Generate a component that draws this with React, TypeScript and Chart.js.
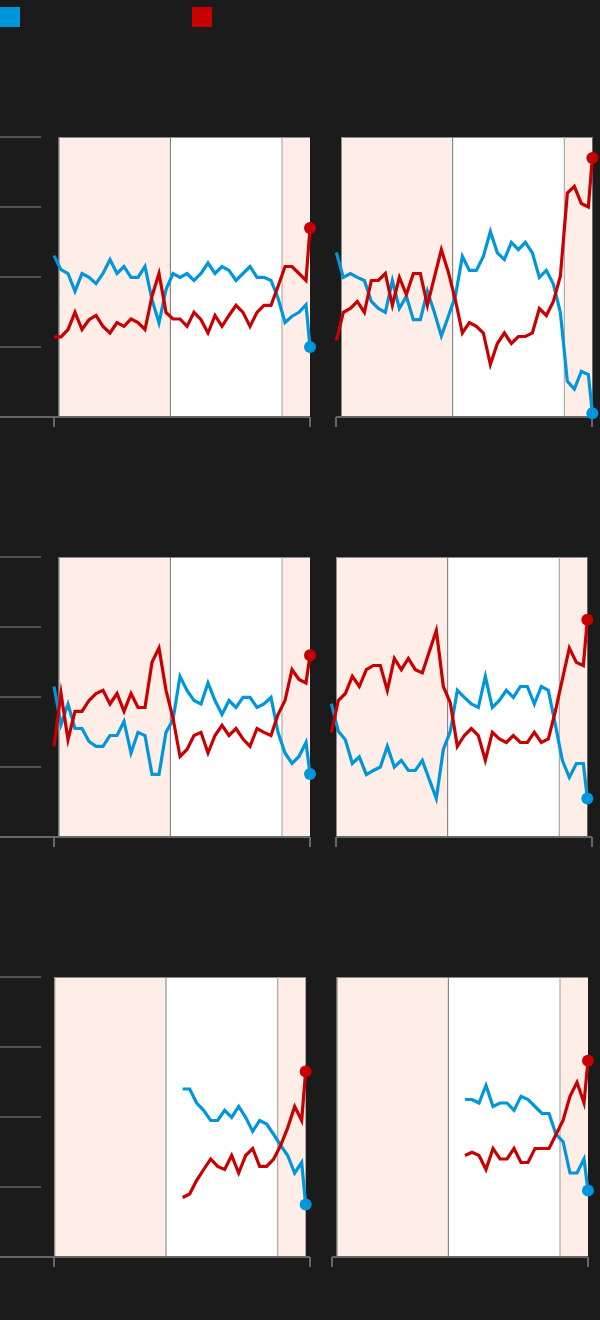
import React, { useEffect, useRef } from "react";
import { Chart, registerables } from "chart.js";

Chart.register(...registerables);

// ---------- data ----------
const X_POS = [
  0, 1, 2, 3, 4, 5, 6, 7, 8, 9, 10, 11, 12, 13, 14, 15, 16, 17, 18, 19, 20,
  21, 22, 23, 24, 25, 26, 27, 28, 29, 30, 31, 32, 33, 34, 35, 36, 36.57,
];
const Y_TICKS = [0, 20, 40, 60, 80];
const BAND_EDGES = [0.667, 16.62, 32.57, 36.57];

const TL_BLUE = [46.1, 42.1, 41.0, 35.9, 41.0, 39.9, 38.1, 41.0, 45.0, 41.0, 43.0, 39.9, 39.9, 43.0, 33.5, 26.9, 36.4, 41.0, 39.9, 41.0, 39.0, 41.0, 44.0, 41.0, 43.0, 41.9, 39.0, 41.0, 43.0, 39.9, 39.9, 39.0, 34.0, 27.0, 28.8, 29.9, 32.1, 20.0];
const TL_RED = [22.9, 22.9, 25.0, 29.9, 25.0, 27.8, 29.0, 25.9, 24.0, 27.0, 25.9, 28.0, 27.0, 25.0, 34.5, 41.0, 29.9, 28.0, 28.0, 25.9, 29.9, 27.8, 24.0, 29.0, 25.9, 29.0, 31.9, 29.9, 25.9, 29.9, 31.9, 31.9, 37.3, 43.0, 43.0, 41.0, 39.0, 54.0];

const TR_BLUE = [47.0, 39.9, 41.0, 39.9, 39.0, 33.0, 31.0, 29.9, 39.0, 31.0, 34.5, 27.8, 27.8, 35.9, 29.9, 23.1, 28.8, 34.5, 45.9, 41.9, 41.9, 45.9, 53.0, 46.9, 45.0, 49.9, 47.8, 49.9, 46.9, 39.9, 41.9, 38.0, 29.9, 10.2, 8.0, 13.0, 12.1, 1.1];
const TR_RED = [21.9, 29.9, 31.0, 33.0, 29.9, 39.0, 39.0, 41.0, 31.9, 39.9, 35.0, 41.0, 41.0, 31.9, 39.9, 47.8, 41.4, 33.5, 24.0, 27.0, 25.9, 24.0, 15.0, 21.0, 24.0, 21.0, 23.0, 23.0, 24.0, 31.0, 29.0, 33.0, 40.2, 64.0, 65.9, 61.0, 60.0, 74.0];

const ML_BLUE = [43.0, 32.1, 38.0, 31.0, 31.0, 27.3, 25.9, 25.9, 29.0, 29.0, 33.0, 24.0, 29.9, 29.0, 17.9, 17.9, 29.9, 33.5, 45.9, 41.9, 39.0, 38.0, 44.0, 39.0, 35.0, 39.0, 37.0, 39.9, 39.9, 37.0, 38.0, 39.9, 29.9, 24.0, 21.0, 23.0, 27.0, 18.0];
const ML_RED = [25.9, 41.0, 27.8, 35.9, 35.9, 39.0, 41.0, 41.9, 38.0, 41.0, 35.9, 41.0, 37.0, 37.0, 49.9, 54.0, 41.9, 34.0, 23.0, 25.0, 29.0, 29.9, 24.0, 29.0, 31.9, 29.0, 31.0, 28.0, 25.9, 31.0, 29.9, 29.0, 35.0, 39.0, 47.8, 45.0, 44.0, 51.9];

const MR_BLUE = [38.1, 30.2, 27.8, 21.0, 22.9, 17.8, 19.0, 20.0, 25.9, 20.0, 21.9, 19.0, 19.0, 21.9, 16.4, 11.0, 25.0, 30.2, 41.9, 39.9, 38.0, 37.0, 45.9, 37.0, 39.0, 41.9, 39.9, 43.0, 43.0, 38.0, 43.0, 41.9, 32.1, 21.9, 17.0, 21.0, 21.0, 11.0];
const MR_RED = [29.9, 39.0, 41.0, 45.9, 43.0, 47.8, 49.0, 49.0, 41.9, 51.0, 47.8, 51.0, 47.8, 46.9, 53.0, 59.0, 43.0, 38.3, 25.9, 29.0, 31.0, 29.0, 21.9, 29.9, 28.0, 27.0, 29.0, 27.0, 27.0, 29.9, 27.0, 28.0, 35.9, 45.0, 54.0, 49.9, 49.0, 62.1];

// bottom row series begin at period index 19
const BL_BLUE = [48.0, 48.0, 44.0, 41.9, 39.0, 39.0, 41.9, 39.9, 43.0, 39.9, 35.9, 39.0, 38.0, 35.0, 31.9, 29.0, 24.0, 27.0, 15.0];
const BL_RED = [17.0, 18.0, 21.9, 25.0, 28.0, 25.9, 25.0, 29.0, 24.0, 29.0, 31.0, 25.9, 25.9, 28.0, 31.9, 36.9, 43.0, 39.0, 53.0];

const BR_BLUE = [45.0, 45.0, 44.0, 49.0, 43.0, 44.0, 44.0, 41.9, 45.9, 45.0, 43.0, 41.0, 41.0, 35.0, 33.0, 24.0, 24.0, 28.0, 19.0];
const BR_RED = [29.0, 29.9, 29.0, 25.0, 31.0, 28.0, 28.0, 31.0, 27.0, 27.0, 31.0, 31.0, 31.0, 35.0, 39.0, 45.9, 49.9, 44.0, 56.1];

// ---------- style ----------
const BG = "#1b1b1b";
const BLUE = "#0096db";
const RED = "#c80000";
const PINK = "#ffede8";
const GRID = "#666666";

type PanelCfg = {
  left: number;
  top: number;
  w: number;
  h: number;
  padL: number;
  padR: number;
  shift: number;
  start: number;
  stubs: boolean;
  blue: number[];
  red: number[];
};

const CANVAS_H = 360;
const PAD_T = 37;
const PAD_B = 43;

const PANELS: PanelCfg[] = [
  { left: 0, top: 100, w: 320, h: CANVAS_H, padL: 54, padR: 10, shift: 0, start: 0, stubs: true, blue: TL_BLUE, red: TL_RED },
  { left: 320, top: 100, w: 280, h: CANVAS_H, padL: 16, padR: 8, shift: 0.05, start: 0, stubs: false, blue: TR_BLUE, red: TR_RED },
  { left: 0, top: 520, w: 320, h: CANVAS_H, padL: 54, padR: 10, shift: 0, start: 0, stubs: true, blue: ML_BLUE, red: ML_RED },
  { left: 320, top: 520, w: 280, h: CANVAS_H, padL: 16, padR: 8, shift: -0.667, start: 0, stubs: false, blue: MR_BLUE, red: MR_RED },
  { left: 0, top: 940, w: 320, h: CANVAS_H, padL: 54, padR: 10, shift: -0.62, start: 19, stubs: true, blue: BL_BLUE, red: BL_RED },
  { left: 320, top: 940, w: 280, h: CANVAS_H, padL: 12, padR: 12, shift: 0, start: 19, stubs: false, blue: BR_BLUE, red: BR_RED },
];

function Panel({ cfg }: { cfg: PanelCfg }) {
  const ref = useRef<HTMLCanvasElement | null>(null);

  useEffect(() => {
    const canvas = ref.current;
    if (!canvas) return;

    const toPoints = (vals: number[]) =>
      vals.map((v, i) => ({ x: X_POS[cfg.start + i] + cfg.shift, y: v }));

    const lastRadius = (n: number) => (c: any) => (c.dataIndex === n - 1 ? 6 : 0);

    const deco = {
      id: "deco",
      beforeDatasetsDraw(chart: any) {
        const { ctx, chartArea, scales } = chart;
        const xs = scales.x;
        const ys = scales.y;
        const y0 = ys.getPixelForValue(Y_TICKS[0]);
        const yTop = ys.getPixelForValue(Y_TICKS[Y_TICKS.length - 1]);
        ctx.save();

        // y gridline stubs
        if (cfg.stubs) {
          ctx.strokeStyle = GRID;
          ctx.lineWidth = 1.5;
          Y_TICKS.slice(1).forEach((v) => {
            const py = ys.getPixelForValue(v);
            ctx.beginPath();
            ctx.moveTo(0, py);
            ctx.lineTo(41, py);
            ctx.stroke();
          });
        }

        // period bands
        const ex = BAND_EDGES.map((e) => xs.getPixelForValue(e + cfg.shift));
        const fills = [PINK, "#ffffff", PINK];
        for (let k = 0; k < 3; k++) {
          ctx.fillStyle = fills[k];
          ctx.fillRect(ex[k], yTop, ex[k + 1] - ex[k], y0 - yTop);
        }

        // box outline (left + top)
        ctx.strokeStyle = "#8a8a8a";
        ctx.lineWidth = 1;
        ctx.beginPath();
        ctx.moveTo(ex[0] + 0.5, y0);
        ctx.lineTo(ex[0] + 0.5, yTop + 0.5);
        ctx.lineTo(ex[3], yTop + 0.5);
        ctx.stroke();

        // dividers
        ctx.strokeStyle = "#7a7a7a";
        ctx.beginPath();
        ctx.moveTo(ex[1], yTop);
        ctx.lineTo(ex[1], y0);
        ctx.stroke();
        ctx.strokeStyle = "#b3abab";
        ctx.lineWidth = 1.2;
        ctx.beginPath();
        ctx.moveTo(ex[2], yTop);
        ctx.lineTo(ex[2], y0);
        ctx.stroke();

        // bottom axis line
        ctx.strokeStyle = GRID;
        ctx.lineWidth = 2;
        ctx.beginPath();
        ctx.moveTo(cfg.stubs ? 0 : chartArea.left, y0);
        ctx.lineTo(chartArea.right, y0);
        ctx.stroke();

        // x ticks at both ends of axis
        [chartArea.left, chartArea.right].forEach((px) => {
          ctx.beginPath();
          ctx.moveTo(px, y0);
          ctx.lineTo(px, y0 + 10);
          ctx.stroke();
        });

        ctx.restore();
      },
    };

    const chart = new Chart(canvas, {
      type: "line",
      data: {
        datasets: [
          {
            data: toPoints(cfg.red),
            borderColor: RED,
            backgroundColor: RED,
            pointBackgroundColor: RED,
            borderWidth: 3.2,
            pointRadius: lastRadius(cfg.red.length),
            pointBorderWidth: 0,
            pointHoverRadius: 0,
            tension: 0,
            fill: false,
            clip: false as any,
          },
          {
            data: toPoints(cfg.blue),
            borderColor: BLUE,
            backgroundColor: BLUE,
            pointBackgroundColor: BLUE,
            borderWidth: 3.2,
            pointRadius: lastRadius(cfg.blue.length),
            pointBorderWidth: 0,
            pointHoverRadius: 0,
            tension: 0,
            fill: false,
            clip: false as any,
          },
        ],
      },
      options: {
        responsive: false,
        maintainAspectRatio: false,
        animation: false,
        events: [],
        layout: {
          padding: { left: cfg.padL, right: cfg.padR, top: PAD_T, bottom: PAD_B },
        },
        scales: {
          x: { type: "linear", display: false, min: X_POS[0], max: X_POS[X_POS.length - 1] },
          y: { type: "linear", display: false, min: Y_TICKS[0], max: Y_TICKS[Y_TICKS.length - 1] },
        },
        plugins: {
          legend: { display: false },
          tooltip: { enabled: false },
        },
      },
      plugins: [deco],
    });

    return () => chart.destroy();
  }, [cfg]);

  return (
    <canvas
      ref={ref}
      width={cfg.w}
      height={cfg.h}
      style={{ position: "absolute", left: cfg.left, top: cfg.top, width: cfg.w, height: cfg.h, display: "block" }}
    />
  );
}

export default function App() {
  useEffect(() => {
    document.body.style.margin = "0";
    document.body.style.background = BG;
  }, []);

  return (
    <div style={{ position: "relative", width: 600, height: 1320, background: BG, overflow: "hidden" }}>
      <div style={{ position: "absolute", left: 0, top: 7, width: 20, height: 20, background: BLUE }} />
      <div style={{ position: "absolute", left: 192, top: 7, width: 20, height: 20, background: RED }} />
      {PANELS.map((p, i) => (
        <Panel key={i} cfg={p} />
      ))}
    </div>
  );
}
